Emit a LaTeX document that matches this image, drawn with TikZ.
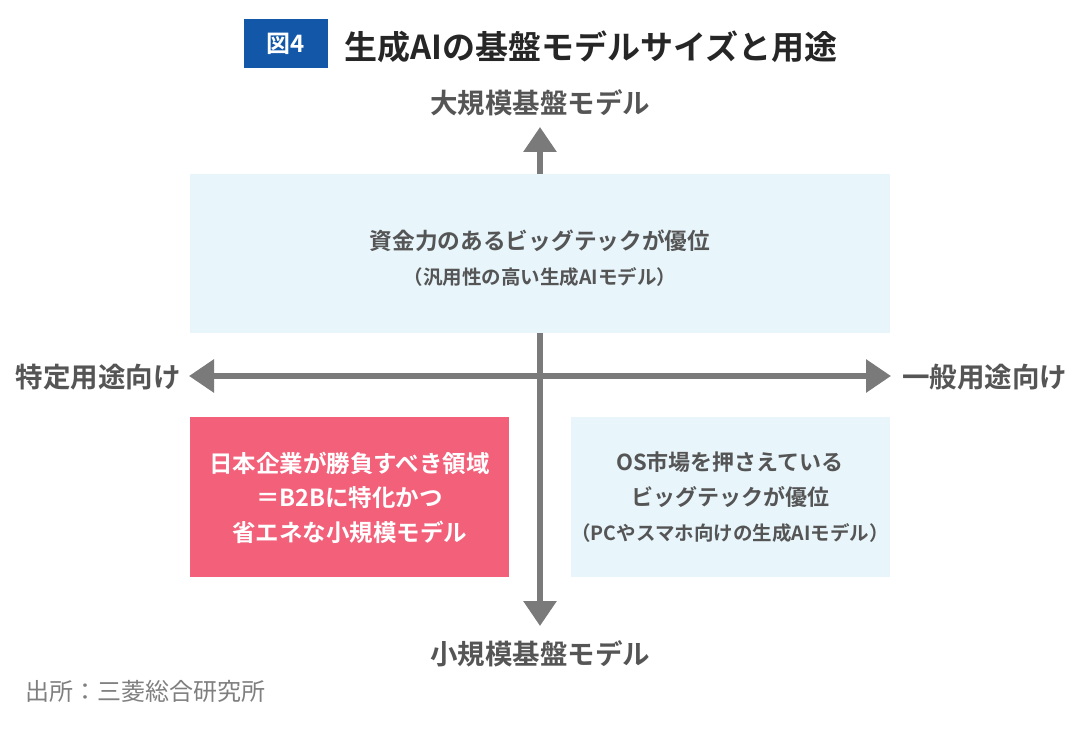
\documentclass[tikz,border=0pt]{standalone}
\usepackage{fontspec}
\newfontfamily\jp{Noto Sans CJK JP}[BoldFont={Noto Sans CJK JP Bold}]
\usetikzlibrary{arrows.meta}
\definecolor{figblue}{HTML}{1257A8}
\definecolor{titlegray}{HTML}{262626}
\definecolor{axisgray}{HTML}{7A7A7A}
\definecolor{labelgray}{HTML}{555555}
\definecolor{boxblue}{HTML}{E8F6FC}
\definecolor{boxpink}{HTML}{F2607A}
\definecolor{srcgray}{HTML}{7F7F7F}
\begin{document}
\begin{tikzpicture}[x=1pt,y=-1pt,
  axislabel/.style={font=\jp\bfseries\fontsize{27.5}{30}\selectfont, text=labelgray, inner sep=0pt},
  boxtext/.style={font=\jp\bfseries\fontsize{22.7}{26}\selectfont, align=center, inner sep=0pt},
  pinktext/.style={font=\jp\bfseries\fontsize{23.5}{34.5}\selectfont, align=center, inner sep=0pt},
  rtext/.style={font=\jp\bfseries\fontsize{22}{35}\selectfont, align=center, inner sep=0pt},
  smalltext/.style={font=\jp\bfseries\fontsize{19.5}{22}\selectfont, inner sep=0pt},
  axis/.style={draw=axisgray, line width=6pt, -{Triangle[length=25pt,width=32pt]}},
  quad/.style={draw=none, inner sep=0pt, anchor=north west}]
\useasboundingbox (0,0) rectangle (1080,735);
\fill[white] (0,0) rectangle (1080,735);
% title
\node[fill=figblue, minimum width=84pt, minimum height=49pt, inner sep=0pt, text=white,
  font=\jp\bfseries\fontsize{24}{26}\selectfont] (fig) at (286,43.5) {図4};
\node[anchor=west, inner sep=0pt, text=titlegray, font=\jp\bfseries\fontsize{33}{36}\selectfont] (title) at (344,46.5) {生成AIの基盤モデルサイズと用途};
% axis ends
\coordinate (top) at (540,127);
\coordinate (bottom) at (540,626);
\coordinate (left) at (189,376);
\coordinate (right) at (891,376);
\coordinate (center) at (540,376);
\draw[axis] (center) -- (top);
\draw[axis] (center) -- (bottom);
\draw[axis] (center) -- (left);
\draw[axis] (center) -- (right);
% boxes
\node[quad, fill=boxblue, minimum width=700pt, minimum height=159pt] (tbox) at (190,174) {};
\node[quad, fill=boxpink, minimum width=319pt, minimum height=160pt] (lbox) at (190,417) {};
\node[quad, fill=boxblue, minimum width=319pt, minimum height=160pt] (rbox) at (571,417) {};
% box texts
\node[boxtext, text=labelgray] (t1) at (540,241) {資金力のあるビッグテックが優位};
\node[smalltext, text=labelgray] (t2) at (540,277) {（汎用性の高い生成AIモデル）};
\node[pinktext, text=white] (l1) at (349.5,497.5) {日本企業が勝負すべき領域\\＝B2Bに特化かつ\\省エネな小規模モデル};
\node[rtext, text=labelgray] (r1) at (730,479.5) {OS市場を押さえている\\ビッグテックが優位};
\node[smalltext, text=labelgray] (r2) at (730,533) {（PCやスマホ向けの生成AIモデル）};
% axis labels
\node[axislabel] (ltop) at (540,103) {大規模基盤モデル};
\node[axislabel] (lbot) at (540,654) {小規模基盤モデル};
\node[axislabel, anchor=east] (lleft) at (181,377) {特定用途向け};
\node[axislabel, anchor=west] (lright) at (902,377) {一般用途向け};
% source
\node[anchor=west, inner sep=0pt, text=srcgray, font=\jp\fontsize{24}{26}\selectfont] (src) at (25,691) {出所：三菱総合研究所};
\end{tikzpicture}
\end{document}
